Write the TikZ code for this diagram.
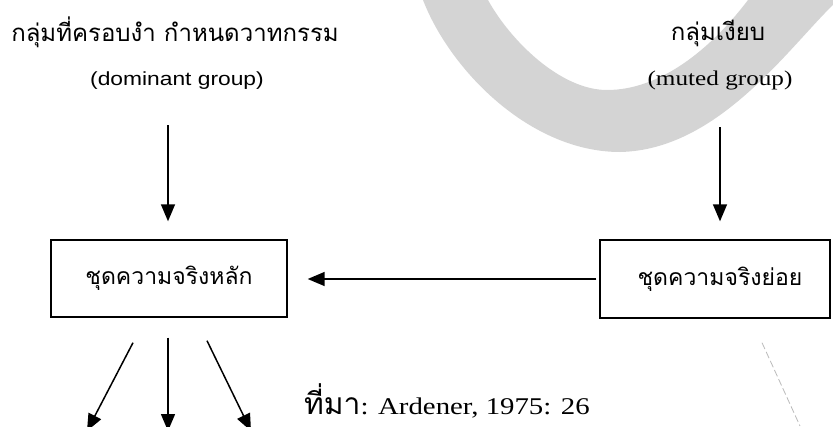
\documentclass[tikz,border=0pt]{standalone}
\usepackage{fontspec}
\setmainfont{Liberation Serif}
\newfontfamily\thai[Script=Thai]{Loma}
\newfontfamily\arialx[FakeStretch=1.2]{Liberation Sans}
\newfontfamily\timesx[FakeStretch=1.2]{Liberation Serif}
\usetikzlibrary{arrows.meta}
\definecolor{bandgray}{RGB}{212,212,212}
\begin{document}
\begin{tikzpicture}[x=1pt,y=-1pt,
  lbl/.style={inner sep=0pt, anchor=center},
  thaitxt/.style={font=\thai\fontsize{24}{28}\selectfont},
  boxn/.style={draw, line width=1.4pt, minimum width=236pt, minimum height=77pt, inner sep=0pt, font=\thai\fontsize{23}{27}\selectfont},
  arr/.style={line width=1.5pt, -{Triangle[length=17pt,width=14pt]}},
  faint/.style={gray!55, line width=0.8pt, dash pattern=on 7pt off 3pt}
]
\useasboundingbox (0,0) rectangle (833,426);
\clip (0,0) rectangle (833,426);
% grey swoosh
\fill[bandgray] (423,0) .. controls (450,70) and (530,152) .. (620,152)
  .. controls (720,150) and (790,45) .. (838,0) -- (748,0)
  .. controls (710,50) and (660,90) .. (607,90)
  .. controls (560,90) and (510,40) .. (488,0) -- cycle;
% texts
\node[lbl, thaitxt] (dom) at (175,32) {กลุ่มที่ครอบงำ กำหนดวาทกรรม};
\node[lbl, font=\arialx\fontsize{19}{22}\selectfont] (domen) at (177,81) {(dominant group)};
\node[lbl, thaitxt] (mut) at (718,33) {กลุ่มเงียบ};
\node[lbl, font=\timesx\fontsize{21}{24}\selectfont] (muten) at (720,80) {(muted group)};
% boxes
\node[boxn] (lbox) at (169,278.5) {ชุดความจริงหลัก};
\node[boxn, minimum width=230pt, minimum height=78pt] (rbox) at (715,279) {\hspace*{10pt}ชุดความจริงย่อย};
% arrows
\coordinate (la) at (168,125);
\coordinate (ra) at (720,127);
\draw[arr, shorten >=18pt] (la) -- (la |- lbox.north);
\draw[arr, shorten >=18pt] (ra) -- (ra |- rbox.north);
\draw[arr, shorten <=3pt, shorten >=20pt] (rbox.west) -- (lbox.east |- rbox.west);
\coordinate (b1s) at ([xshift=-36pt,yshift=-25pt]lbox.south);
\coordinate (b2s) at ([xshift=-1pt,yshift=-20pt]lbox.south);
\coordinate (b3s) at ([xshift=38pt,yshift=-23pt]lbox.south);
\coordinate (b1e) at (87,431);
\coordinate (b2e) at (168,431);
\coordinate (b3e) at (251,431);
\draw[arr] (b1s) -- (b1e);
\draw[arr] (b2s) -- (b2e);
\draw[arr] (b3s) -- (b3e);
% faint remnants
\coordinate (f1s) at ([xshift=47pt,yshift=-24pt]rbox.south);
\coordinate (f1e) at (800,426);
\draw[faint] (f1s) -- (f1e);
% source
\node[anchor=base west, inner sep=0pt] (src) at (304,414) {\raisebox{0pt}[\height][0pt]{{\thai\fontsize{30}{34}\selectfont ที่มา}{\timesx\fontsize{24}{27}\selectfont: Ardener, 1975: 26}}};
\end{tikzpicture}
\end{document}
